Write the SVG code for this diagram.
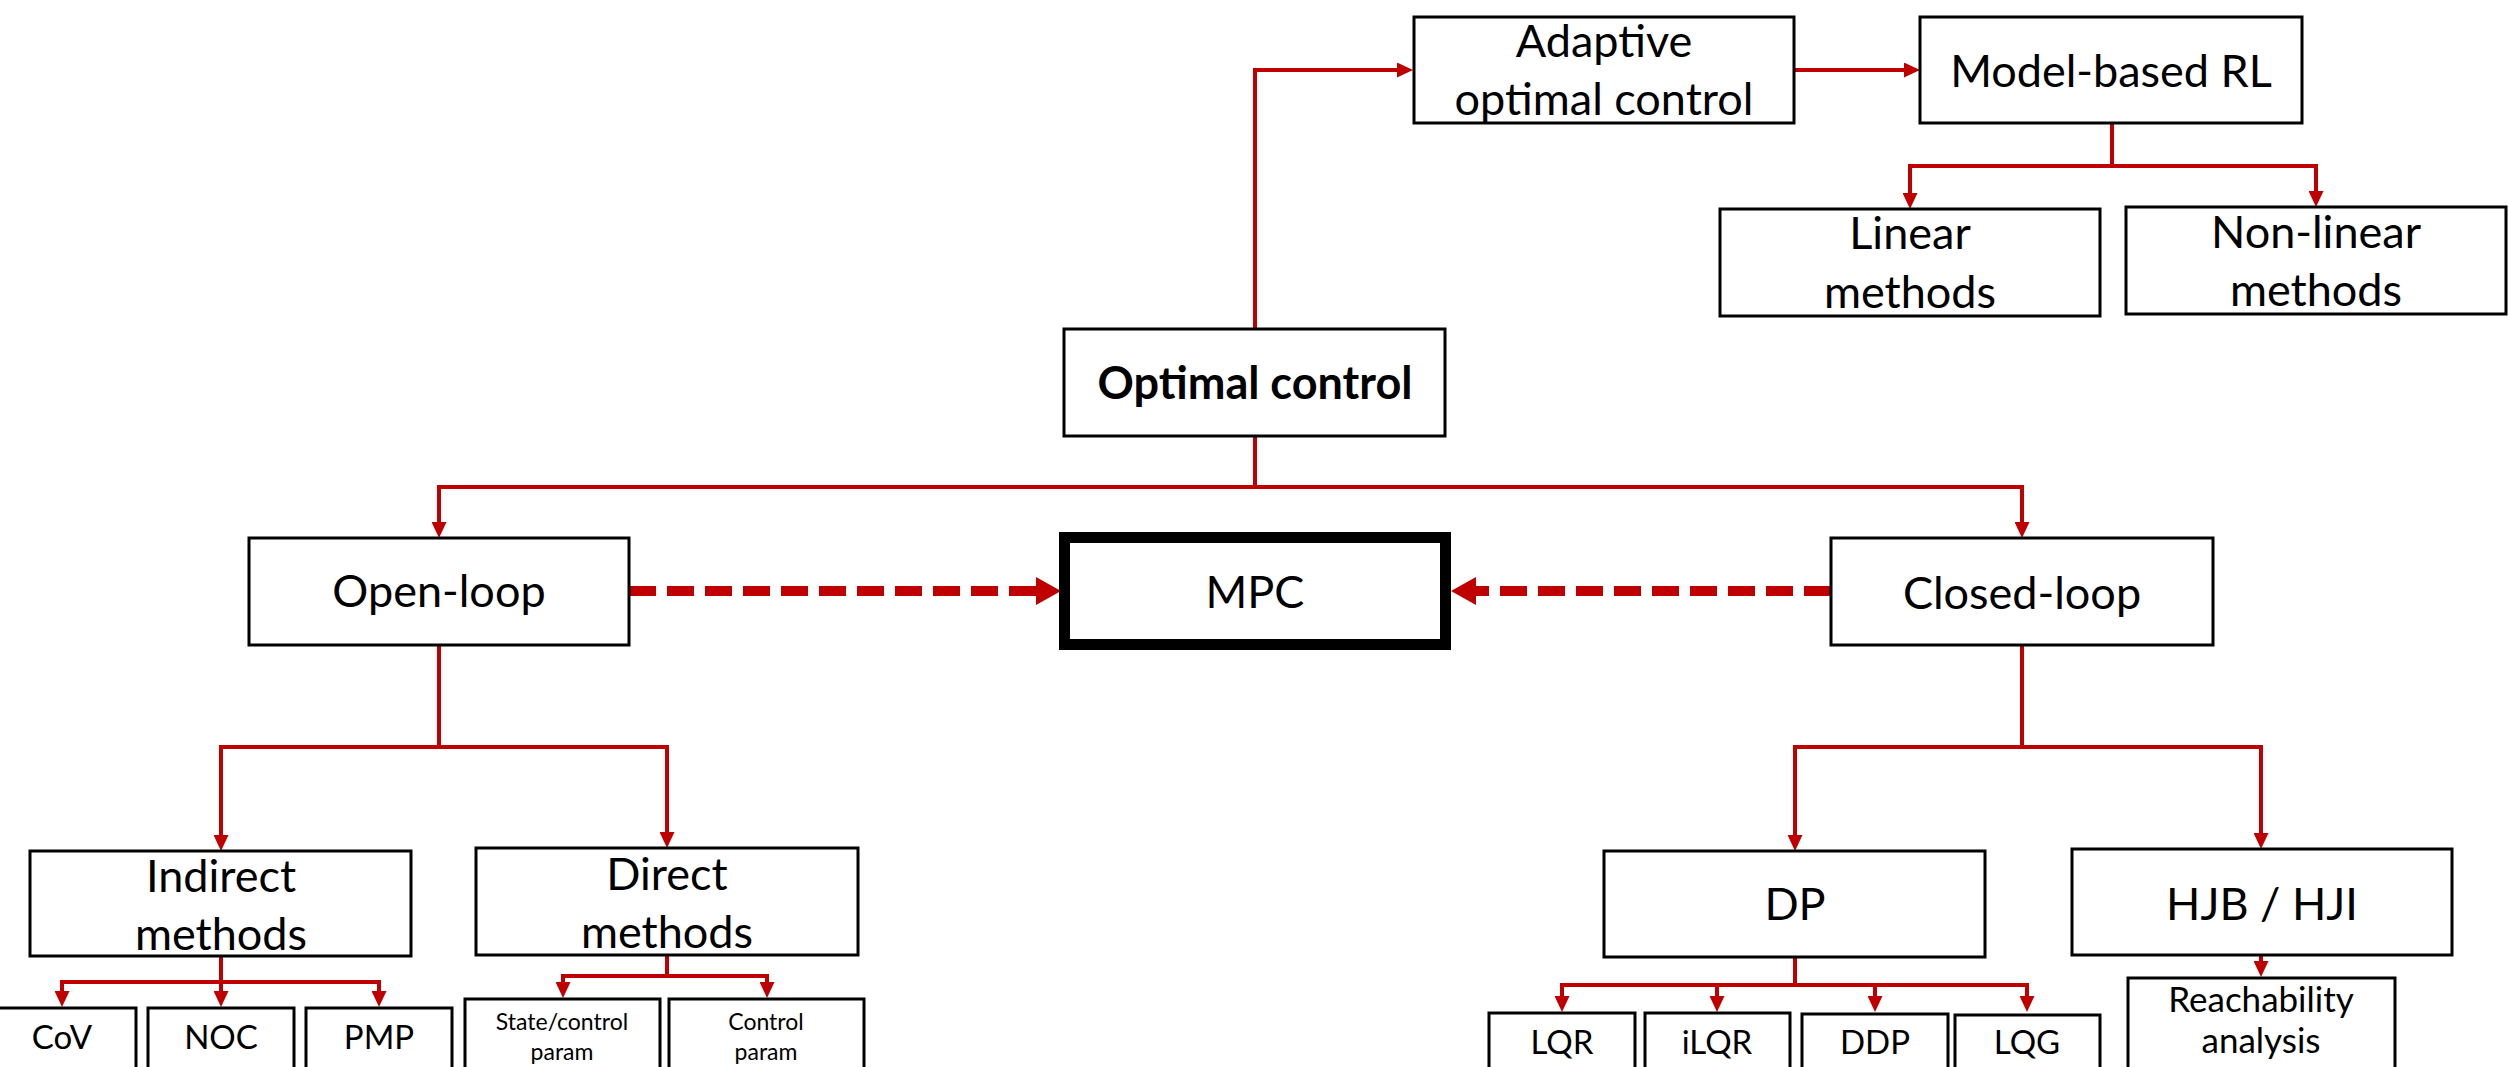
<svg xmlns="http://www.w3.org/2000/svg" width="2509" height="1067" viewBox="0 0 2509 1067">
<style>
  .box{fill:#fff;stroke:#000;stroke-width:3}
  .mpc{fill:#fff;stroke:#000;stroke-width:11}
  .t{font-family:Lato,"Liberation Sans",sans-serif;fill:#000;text-anchor:middle}
  .L{font-size:45px}
  .B{font-size:45px;font-weight:bold}
  .M{font-size:33px}
  .S{font-size:35px}
  .XS{font-size:23px}
  .c{fill:none;stroke:#C00000;stroke-width:4}
  .d{fill:none;stroke:#C00000;stroke-width:10;stroke-dasharray:27 11}
</style>
<defs>
  <marker id="ah" markerUnits="userSpaceOnUse" viewBox="0 0 16 15" markerWidth="16" markerHeight="15" refX="0" refY="7.5" orient="auto">
    <path d="M0,0 L16,7.5 L0,15 z" fill="#C00000"/>
  </marker>
  <marker id="big" markerUnits="userSpaceOnUse" viewBox="0 0 25 28" markerWidth="25" markerHeight="28" refX="0" refY="14" orient="auto">
    <path d="M0,0 L25,14 L0,28 z" fill="#C00000"/>
  </marker>
</defs>

<g id="connectors">
  <path class="c" d="M1255,329 V70 H1397" marker-end="url(#ah)"/>
  <path class="c" d="M1794,70 H1904" marker-end="url(#ah)"/>
  <path class="c" d="M2112,123 V166"/>
  <path class="c" d="M1910,166 H2316"/>
  <path class="c" d="M1910,164 V193" marker-end="url(#ah)"/>
  <path class="c" d="M2316,164 V191" marker-end="url(#ah)"/>
  <path class="c" d="M1255,436 V487"/>
  <path class="c" d="M437,487 H2024"/>
  <path class="c" d="M439,485 V522" marker-end="url(#ah)"/>
  <path class="c" d="M2022,485 V522" marker-end="url(#ah)"/>
  <path class="c" d="M439,645 V747"/>
  <path class="c" d="M219,747 H669"/>
  <path class="c" d="M221,745 V835" marker-end="url(#ah)"/>
  <path class="c" d="M667,745 V832" marker-end="url(#ah)"/>
  <path class="c" d="M221,956 V982"/>
  <path class="c" d="M60,982 H381"/>
  <path class="c" d="M62,980 V991" marker-end="url(#ah)"/>
  <path class="c" d="M221,980 V991" marker-end="url(#ah)"/>
  <path class="c" d="M379,980 V991" marker-end="url(#ah)"/>
  <path class="c" d="M667,955 V976"/>
  <path class="c" d="M561,976 H769"/>
  <path class="c" d="M563,974 V982" marker-end="url(#ah)"/>
  <path class="c" d="M767,974 V982" marker-end="url(#ah)"/>
  <path class="c" d="M2022,645 V747"/>
  <path class="c" d="M1793,747 H2263"/>
  <path class="c" d="M1795,745 V835" marker-end="url(#ah)"/>
  <path class="c" d="M2261,745 V833" marker-end="url(#ah)"/>
  <path class="c" d="M1795,957 V985"/>
  <path class="c" d="M1560,985 H2029"/>
  <path class="c" d="M1562,983 V996" marker-end="url(#ah)"/>
  <path class="c" d="M1717,983 V996" marker-end="url(#ah)"/>
  <path class="c" d="M1875,983 V996" marker-end="url(#ah)"/>
  <path class="c" d="M2027,983 V996" marker-end="url(#ah)"/>
  <path class="c" d="M2261,955 V961" marker-end="url(#ah)"/>
  <path class="d" d="M629,591 H1036" marker-end="url(#big)"/>
  <path class="d" d="M1831,591 H1476" marker-end="url(#big)"/>
</g>

<g id="adaptive"><rect class="box" x="1414" y="17" width="380" height="106"/><text class="t L" x="1604" y="57">Adaptive</text><text class="t L" x="1604" y="115">optimal control</text></g>
<g id="modelrl"><rect class="box" x="1920" y="17" width="382" height="106"/><text class="t L" x="2111" y="87">Model-based RL</text></g>
<g id="linear"><rect class="box" x="1720" y="209" width="380" height="107"/><text class="t L" x="1910" y="249">Linear</text><text class="t L" x="1910" y="308">methods</text></g>
<g id="nonlinear"><rect class="box" x="2126" y="207" width="380" height="107"/><text class="t L" x="2316" y="248">Non-linear</text><text class="t L" x="2316" y="306">methods</text></g>
<g id="optimal"><rect class="box" x="1064" y="329" width="381" height="107"/><text class="t B" x="1255" y="399">Optimal control</text></g>
<g id="mpc"><rect class="mpc" x="1064.5" y="537.5" width="381" height="107"/><text class="t L" x="1255" y="608">MPC</text></g>
<g id="openloop"><rect class="box" x="249" y="538" width="380" height="107"/><text class="t L" x="439" y="607">Open-loop</text></g>
<g id="closedloop"><rect class="box" x="1831" y="538" width="382" height="107"/><text class="t L" x="2022" y="609">Closed-loop</text></g>
<g id="indirect"><rect class="box" x="30" y="851" width="381" height="105"/><text class="t L" x="221" y="892">Indirect</text><text class="t L" x="221" y="950">methods</text></g>
<g id="direct"><rect class="box" x="476" y="848" width="382" height="107"/><text class="t L" x="667" y="890">Direct</text><text class="t L" x="667" y="948">methods</text></g>
<g id="dp"><rect class="box" x="1604" y="851" width="381" height="106"/><text class="t L" x="1795" y="920">DP</text></g>
<g id="hjb"><rect class="box" x="2072" y="849" width="380" height="106"/><text class="t L" x="2262" y="920">HJB / HJI</text></g>
<g id="cov"><rect class="box" x="-11" y="1008" width="147" height="80"/><text class="t M" x="62" y="1049">CoV</text></g>
<g id="noc"><rect class="box" x="148" y="1008" width="146" height="80"/><text class="t M" x="221" y="1049">NOC</text></g>
<g id="pmp"><rect class="box" x="306" y="1008" width="146" height="80"/><text class="t M" x="379" y="1049">PMP</text></g>
<g id="statecontrol"><rect class="box" x="465" y="999" width="195" height="90"/><text class="t XS" x="562" y="1030">State/control</text><text class="t XS" x="562" y="1060">param</text></g>
<g id="controlparam"><rect class="box" x="669" y="999" width="195" height="90"/><text class="t XS" x="766" y="1030">Control</text><text class="t XS" x="766" y="1060">param</text></g>
<g id="lqr"><rect class="box" x="1489" y="1013" width="146" height="80"/><text class="t M" x="1562" y="1054">LQR</text></g>
<g id="ilqr"><rect class="box" x="1645" y="1013" width="145" height="80"/><text class="t M" x="1717" y="1054">iLQR</text></g>
<g id="ddp"><rect class="box" x="1802" y="1014" width="146" height="80"/><text class="t M" x="1875" y="1054">DDP</text></g>
<g id="lqg"><rect class="box" x="1955" y="1015" width="145" height="80"/><text class="t M" x="2027" y="1054">LQG</text></g>
<g id="reach"><rect class="box" x="2128" y="978" width="267" height="110"/><text class="t S" x="2261" y="1012">Reachability</text><text class="t S" x="2261" y="1053">analysis</text></g>
</svg>
